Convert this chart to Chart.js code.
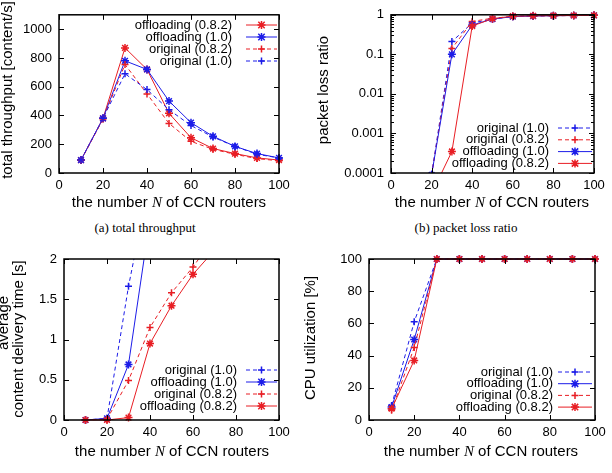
<!DOCTYPE html>
<html lang="en">
<head>
<meta charset="UTF-8">
<title>CCN routers: throughput, loss, delay, CPU</title>
<script src="https://cdn.jsdelivr.net/npm/chart.js"></script>
<style>
    body {
        margin: 0;
        width: 612px;
        height: 473px;
        overflow: hidden;
        position: relative;
        background: #fff;
        font-family: "Liberation Sans", Arial, sans-serif;
        color: #000;
    }
    .plot { position: absolute; }
    .xt {
        position: absolute;
        font-size: 15px;
        line-height: 16px;
        white-space: nowrap;
        transform: translateX(-50%);
    }
    .xt i { font-family: "Liberation Serif", serif; }
    .yt {
        position: absolute;
        font-size: 15px;
        line-height: 16px;
        white-space: nowrap;
        transform: translate(-50%, -50%) rotate(-90deg);
    }
    .cap {
        position: absolute;
        font-family: "Liberation Serif", serif;
        font-size: 13px;
        white-space: nowrap;
        transform: translateX(-50%);
    }
</style>
</head>
<body>

<div class="plot" style="left:0;top:0;width:300px;height:205px"><canvas id="thr"></canvas></div>
<div class="plot" style="left:300px;top:0;width:312px;height:205px"><canvas id="loss"></canvas></div>
<div class="plot" style="left:0;top:240px;width:300px;height:205px"><canvas id="delay"></canvas></div>
<div class="plot" style="left:300px;top:240px;width:312px;height:205px"><canvas id="cpu"></canvas></div>

<div class="yt" style="left:7px;top:90px">total throughput [content/s]</div>
<div class="yt" style="left:323px;top:90px">packet loss ratio</div>
<div class="yt" style="left:3px;top:323px">average</div>
<div class="yt" style="left:18px;top:339px">content delivery time [s]</div>
<div class="yt" style="left:310px;top:338px">CPU utilization [%]</div>

<div class="xt" style="left:169px;top:194px">the number <i>N</i> of CCN routers</div>
<div class="xt" style="left:492px;top:194px">the number <i>N</i> of CCN routers</div>
<div class="xt" style="left:172px;top:443px">the number <i>N</i> of CCN routers</div>
<div class="xt" style="left:481px;top:443px">the number <i>N</i> of CCN routers</div>

<div class="cap" style="left:145px;top:220px">(a) total throughput</div>
<div class="cap" style="left:466px;top:220px">(b) packet loss ratio</div>
<div class="cap" style="left:120px;top:471px">(c) average content delivery time</div>
<div class="cap" style="left:398px;top:471px">(d) CPU utilization</div>

<script>
    const routers = [10, 20, 30, 40, 50, 60, 70, 80, 90, 100];
    const xTicks = [0, 20, 40, 60, 80, 100];

    // (a) total throughput [content/s]
    const thrOff082  = [90, 380, 870, 720, 415, 245, 170, 135, 105, 90];
    const thrOff10   = [90, 380, 780, 720, 500, 350, 255, 185, 135, 105];
    const thrOrig082 = [88, 375, 755, 550, 345, 220, 165, 130, 100, 85];
    const thrOrig10  = [90, 380, 690, 580, 440, 330, 250, 185, 130, 105];
    const thrTicks = [0, 200, 400, 600, 800, 1000];

    // (b) packet loss ratio (no value at N=10, zero on a log axis)
    const lossOrig10   = [null, 0.00009, 0.21, 0.62, 0.78, 0.9, 0.93, 0.95, 0.96, 0.97];
    const lossOrig082  = [null, 0.00009, 0.14, 0.68, 0.82, 0.91, 0.94, 0.95, 0.96, 0.97];
    const lossOff10    = [null, 0.00009, 0.10, 0.55, 0.78, 0.9, 0.93, 0.95, 0.96, 0.97];
    const lossOff082   = [null, 0.00003, 0.00035, 0.52, 0.8, 0.92, 0.94, 0.95, 0.96, 0.97];
    const lossTicks = [0.0001, 0.001, 0.01, 0.1, 1];
    const lossTickLabels = ['0.0001', '0.001', '0.01', '0.1', '1'];

    // (c) average content delivery time [s]
    const delOrig10  = [0, 0.02, 1.66, 3.0, null, null, null, null, null, null];
    const delOff10   = [0, 0.02, 0.69, 2.5, null, null, null, null, null, null];
    const delOrig082 = [0, 0.01, 0.49, 1.15, 1.58, 1.90, 2.28, null, null, null];
    const delOff082  = [0, 0, 0.03, 0.95, 1.42, 1.81, 2.11, null, null, null];
    const delTicks = [0, 0.5, 1, 1.5, 2];

    // (d) CPU utilization [%]
    const cpuOrig10  = [9, 61, 100, 100, 100, 100, 100, 100, 100, 100];
    const cpuOff10   = [8, 50, 100, 100, 100, 100, 100, 100, 100, 100];
    const cpuOrig082 = [6, 45, 100, 100, 100, 100, 100, 100, 100, 100];
    const cpuOff082  = [7, 37, 100, 100, 100, 100, 100, 100, 100, 100];
    const cpuTicks = [0, 20, 40, 60, 80, 100];

    const RED = 'rgb(232,30,36)';
    const BLUE = 'rgb(28,28,232)';
    const FONT = { family: '"Liberation Sans", Arial, sans-serif', size: 13 };

    // series look, gnuplot style: original = dashed "+", offloading = solid "*"
    const styles = {
        'original (1.0)':     { color: BLUE, dash: [4, 3], point: 'cross' },
        'original (0.8.2)':   { color: RED,  dash: [4, 3], point: 'cross' },
        'offloading (1.0)':   { color: BLUE, dash: [],     point: 'star' },
        'offloading (0.8.2)': { color: RED,  dash: [],     point: 'star' }
    };

    function drawMarker(ctx, kind, x, y) {
        const r = kind === 'star' ? 4 : 3.5;
        ctx.beginPath();
        ctx.moveTo(x - r, y); ctx.lineTo(x + r, y);
        ctx.moveTo(x, y - r); ctx.lineTo(x, y + r);
        if (kind === 'star') {
            const d = r * 0.8;
            ctx.moveTo(x - d, y - d); ctx.lineTo(x + d, y + d);
            ctx.moveTo(x - d, y + d); ctx.lineTo(x + d, y - d);
        }
        ctx.stroke();
    }

    // keys are kept outside the chart options so Chart.js doesn't proxy them
    const keys = {};

    // box, inward ticks on all four sides, and a gnuplot-like key
    const framePlugin = {
        id: 'frame',
        afterDatasetsDraw(chart) {
            const { ctx, chartArea: a, scales: { x, y } } = chart;
            const k = keys[chart.canvas.id];
            ctx.save();
            ctx.strokeStyle = '#000';
            ctx.lineWidth = 1;
            ctx.beginPath();
            x.ticks.forEach(t => {
                const px = Math.round(x.getPixelForValue(t.value)) + 0.5;
                ctx.moveTo(px, a.bottom); ctx.lineTo(px, a.bottom - 5);
                ctx.moveTo(px, a.top); ctx.lineTo(px, a.top + 5);
            });
            y.ticks.forEach(t => {
                const py = Math.round(y.getPixelForValue(t.value)) + 0.5;
                ctx.moveTo(a.left, py); ctx.lineTo(a.left + 5, py);
                ctx.moveTo(a.right, py); ctx.lineTo(a.right - 5, py);
            });
            (k.minor || []).forEach(v => {
                const py = Math.round(y.getPixelForValue(v)) + 0.5;
                ctx.moveTo(a.left, py); ctx.lineTo(a.left + 3, py);
                ctx.moveTo(a.right, py); ctx.lineTo(a.right - 3, py);
            });
            ctx.stroke();
            ctx.lineWidth = 1.5;
            ctx.strokeRect(a.left, a.top, a.right - a.left, a.bottom - a.top);

            ctx.font = '13px "Liberation Sans", Arial, sans-serif';
            ctx.textAlign = 'right';
            ctx.textBaseline = 'middle';
            k.labels.forEach((lab, i) => {
                const st = styles[lab];
                const yy = k.y + i * k.step;
                ctx.fillStyle = '#000';
                ctx.fillText(lab, k.x, yy);
                ctx.strokeStyle = st.color;
                ctx.lineWidth = 1;
                ctx.setLineDash(st.dash);
                ctx.beginPath();
                ctx.moveTo(k.l0, yy); ctx.lineTo(k.l1, yy);
                ctx.stroke();
                ctx.setLineDash([]);
                ctx.lineWidth = 1.5;
                drawMarker(ctx, st.point, (k.l0 + k.l1) / 2, yy);
            });
            ctx.restore();
        }
    };

    function makeChart(id, opt) {
        keys[id] = { ...opt.key, labels: opt.labels, minor: opt.minor };
        const n = opt.labels.length;
        const datasets = opt.labels.map((lab, i) => {
            const st = styles[lab];
            return {
                label: lab,
                data: routers.map((r, j) => ({ x: r, y: opt.series[i][j] })),
                borderColor: st.color,
                backgroundColor: st.color,
                borderWidth: 1,
                borderDash: st.dash,
                pointStyle: st.point,
                pointRadius: st.point === 'star' ? 4 : 3.5,
                pointBorderWidth: 1.5,
                order: n - i,
                spanGaps: false,
                clip: opt.clip
            };
        });
        return new Chart(document.getElementById(id), {
            type: 'line',
            data: { datasets: datasets },
            options: {
                responsive: true,
                maintainAspectRatio: false,
                animation: false,
                layout: { padding: opt.pad },
                plugins: {
                    legend: { display: false },
                    tooltip: { enabled: false }
                },
                scales: {
                    x: {
                        type: 'linear',
                        min: 0,
                        max: 100,
                        grid: { display: false, drawTicks: false },
                        border: { display: false },
                        afterBuildTicks: s => { s.ticks = xTicks.map(v => ({ value: v })); },
                        afterFit: s => { s.height = opt.xHeight; },
                        ticks: { color: '#000', font: FONT, padding: 5, maxRotation: 0 }
                    },
                    y: {
                        type: opt.log ? 'logarithmic' : 'linear',
                        min: opt.yMin,
                        max: opt.yMax,
                        grid: { display: false, drawTicks: false },
                        border: { display: false },
                        afterBuildTicks: s => { s.ticks = opt.yTicks.map(v => ({ value: v })); },
                        afterFit: s => { s.width = opt.yWidth; },
                        ticks: {
                            color: '#000',
                            font: FONT,
                            padding: 7,
                            callback: (v, i) => opt.yLabels ? opt.yLabels[i] : String(v)
                        }
                    }
                }
            },
            plugins: [framePlugin]
        });
    }

    // minor ticks for the log axis: 2..9 in each decade
    const lossMinor = [];
    [0.0001, 0.001, 0.01, 0.1].forEach(d => {
        for (let m = 2; m <= 9; m++) lossMinor.push(d * m);
    });

    makeChart('thr', {
        labels: ['offloading (0.8.2)', 'offloading (1.0)', 'original (0.8.2)', 'original (1.0)'],
        series: [thrOff082, thrOff10, thrOrig082, thrOrig10],
        yMin: 0, yMax: 1100, yTicks: thrTicks,
        yWidth: 59, xHeight: 32,
        clip: { left: 6, right: 6, top: 6, bottom: 6 },
        pad: { left: 0, top: 12, right: 21, bottom: 0 },
        key: { x: 232, y: 25, step: 12, l0: 246, l1: 277 }
    });

    makeChart('loss', {
        labels: ['original (1.0)', 'original (0.8.2)', 'offloading (1.0)', 'offloading (0.8.2)'],
        series: [lossOrig10, lossOrig082, lossOff10, lossOff082],
        log: true,
        yMin: 0.0001, yMax: 1, yTicks: lossTicks, yLabels: lossTickLabels,
        minor: lossMinor,
        yWidth: 91, xHeight: 32,
        clip: { left: 6, right: 6, top: 6, bottom: 0 },
        pad: { left: 0, top: 12, right: 18, bottom: 0 },
        key: { x: 249, y: 128, step: 11.8, l0: 258, l1: 292 }
    });

    makeChart('delay', {
        labels: ['original (1.0)', 'offloading (1.0)', 'original (0.8.2)', 'offloading (0.8.2)'],
        series: [delOrig10, delOff10, delOrig082, delOff082],
        yMin: 0, yMax: 2, yTicks: delTicks,
        yWidth: 64, xHeight: 25,
        clip: { left: 6, right: 6, top: 0, bottom: 6 },
        pad: { left: 0, top: 19, right: 21, bottom: 0 },
        key: { x: 237, y: 130, step: 12, l0: 246, l1: 277 }
    });

    makeChart('cpu', {
        labels: ['original (1.0)', 'offloading (1.0)', 'original (0.8.2)', 'offloading (0.8.2)'],
        series: [cpuOrig10, cpuOff10, cpuOrig082, cpuOff082],
        yMin: 0, yMax: 100, yTicks: cpuTicks,
        yWidth: 69, xHeight: 25,
        clip: { left: 6, right: 6, top: 6, bottom: 6 },
        pad: { left: 0, top: 19, right: 17, bottom: 0 },
        key: { x: 253, y: 132, step: 11.7, l0: 258, l1: 292 }
    });
</script>
</body>
</html>
